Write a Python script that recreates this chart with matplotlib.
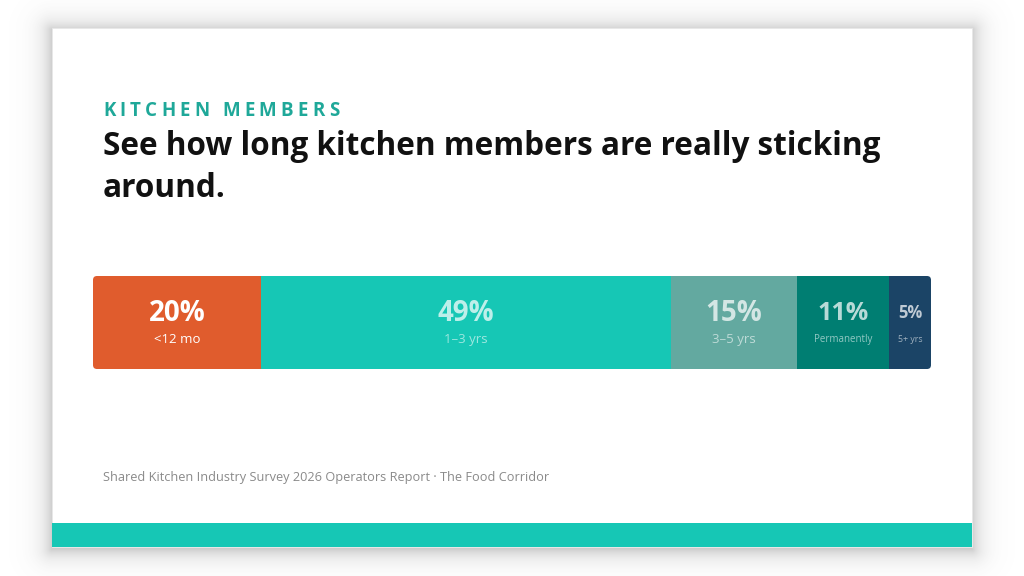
import numpy as np
import matplotlib
matplotlib.use("Agg")
import matplotlib.pyplot as plt
from matplotlib.patches import Rectangle, FancyBboxPatch
from matplotlib.transforms import blended_transform_factory

# chart data
segments = ["<12 mo", "1–3 yrs", "3–5 yrs", "Permanently", "5+ yrs"]
shares = [20, 49, 15, 11, 5]
colors = ["#E05C2D", "#16C7B5", "#63A9A0", "#007E72", "#1B4466"]
blurred = [False, True, True, True, True]

kicker = "KITCHEN MEMBERS"
title_lines = ["See how long kitchen members are really sticking", "around."]
footer = "Shared Kitchen Industry Survey 2026 Operators Report · The Food Corridor"

W, H = 1024, 576
FONT = "Open Sans"

fig = plt.figure(figsize=(W / 100, H / 100), dpi=100)
fig.patch.set_facecolor("white")

# background axes in pixel coordinates
bg = fig.add_axes([0, 0, 1, 1])
bg.set_xlim(0, W)
bg.set_ylim(H, 0)
bg.axis("off")

# soft shadow around the card
cx0, cy0, cx1, cy1 = 52, 28, 972, 547
yy, xx = np.mgrid[0:H, 0:W] + 0.5
dx = np.maximum(np.maximum(cx0 - xx, 0), xx - cx1)
dy = np.maximum(np.maximum(cy0 + 2 - yy, 0), yy - (cy1 + 2))
d = np.hypot(dx, dy)
shadow = np.zeros((H, W, 4))
shadow[..., :3] = 0.35
shadow[..., 3] = 0.30 * np.exp(-d / 10.0)
bg.imshow(shadow, extent=(0, W, H, 0), zorder=0, interpolation="bilinear")
bg.set_xlim(0, W)
bg.set_ylim(H, 0)

bg.add_patch(Rectangle((cx0, cy0), cx1 - cx0, cy1 - cy0, facecolor="white",
                       edgecolor="#e8e8e8", linewidth=0.6, zorder=1))
bg.add_patch(Rectangle((cx0, 523), cx1 - cx0, cy1 - 523, facecolor="#16C7B5",
                       edgecolor="none", zorder=2))

# letter-spaced kicker
renderer = fig.canvas.get_renderer()
chars = []
for ch in kicker:
    t = bg.text(0, 116, ch, fontsize=13.5, fontweight="bold", color="#1FA899",
                family=FONT, va="baseline", ha="left", zorder=3)
    chars.append(t)
widths = [t.get_window_extent(renderer).width for t in chars]
track = (236 - sum(widths)) / (len(kicker) - 1)
x = 103
for t, w in zip(chars, widths):
    t.set_x(x)
    x += w + track

# headline
for i, line in enumerate(title_lines):
    bg.text(103, 155 + 42 * i, line, fontsize=22.7, fontweight="bold",
            color="#111111", family=FONT, va="baseline", ha="left", zorder=3)

# footer
bg.text(103, 481, footer, fontsize=9.2, color="#8a8a8a", family=FONT,
        va="baseline", ha="left", zorder=3)

# stacked bar
bx0, by0, bx1, by1 = 93, 276, 931, 369
ax = fig.add_axes([bx0 / W, 1 - by1 / H, (bx1 - bx0) / W, (by1 - by0) / H])
ax.set_xlim(0, sum(shares))
ax.set_ylim(-0.5, 0.5)
ax.axis("off")
ax.patch.set_alpha(0)

lefts = np.cumsum([0] + shares[:-1])
bars = ax.barh(0, shares, left=lefts, height=1, color=colors, edgecolor="none")

# rounded outer corners
clip = FancyBboxPatch((bx0, by0), bx1 - bx0, by1 - by0,
                      boxstyle="round,pad=0,rounding_size=4",
                      transform=bg.transData, facecolor="none", edgecolor="none")
for b in bars:
    b.set_clip_path(clip)

tr = blended_transform_factory(ax.transData, ax.transAxes)
for seg, val, left, blur in zip(segments, shares, lefts, blurred):
    mid = left + val / 2
    alpha = 0.72 if blur else 1.0
    if val >= 14:
        big, small = 20, 9.5
    elif val >= 10:
        big, small = 18, 7
    else:
        big, small = 12, 6.3
    ax.text(mid, 0.60, f"{val}%", transform=tr, ha="center", va="center",
            fontsize=big, fontweight="bold", color="white", alpha=alpha, family=FONT)
    ax.text(mid, 0.32, seg, transform=tr, ha="center", va="center",
            fontsize=small, color="white", alpha=alpha * 0.8 if blur else 1.0,
            family=FONT)

fig.savefig("out.png", dpi=100, facecolor="white")
